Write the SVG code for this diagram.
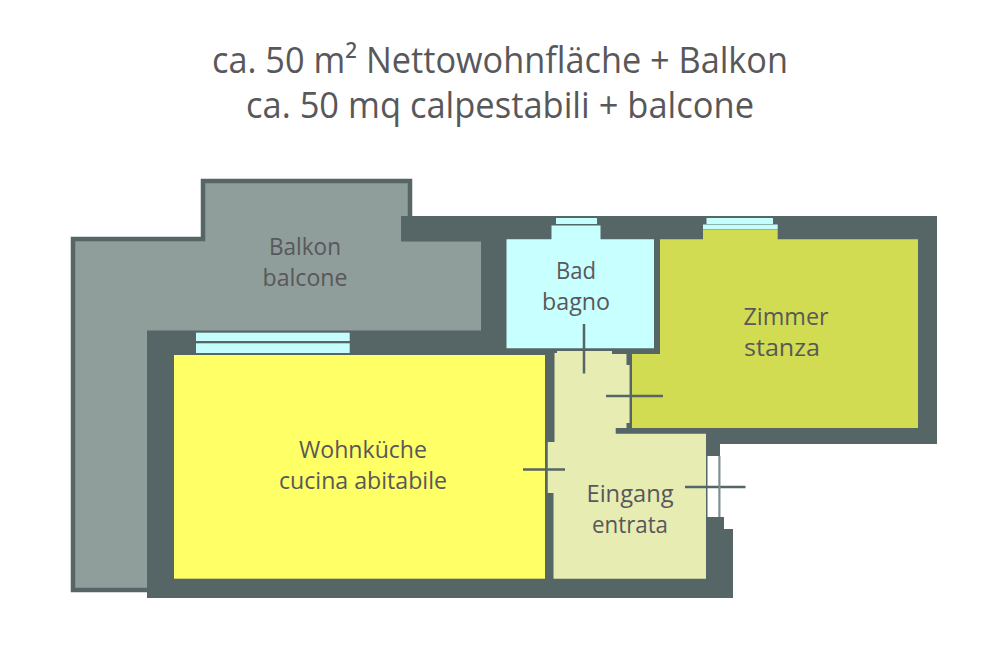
<svg xmlns="http://www.w3.org/2000/svg" width="1000" height="650" viewBox="0 0 1000 650">
<style>
text{font-family:"Open Sans","Noto Sans","Liberation Sans",sans-serif;fill:#58585a;text-anchor:middle}
.t{font-size:36px}
.l{font-size:23px}
.wall{fill:#566565}
.win{fill:#c5fdfd}
.door{stroke:#566565;stroke-width:2.5;fill:none}
.thin{stroke:#566565;stroke-width:2;fill:none}
</style>
<rect width="1000" height="650" fill="#fff"/>
<g id="title">
<text class="t" x="500" y="73" textLength="576" lengthAdjust="spacingAndGlyphs">ca. 50 m² Nettowohnfläche + Balkon</text>
<text class="t" x="500" y="118" textLength="508" lengthAdjust="spacingAndGlyphs">ca. 50 mq calpestabili + balcone</text>
</g>
<g id="balkon">
<path d="M73 239H203V181H410V235H490V340H150V590H73Z" fill="#8f9d9b" stroke="#566565" stroke-width="4.5"/>
<text class="l" x="305" y="255" textLength="72" lengthAdjust="spacingAndGlyphs">Balkon</text>
<text class="l" x="305" y="286" textLength="85" lengthAdjust="spacingAndGlyphs">balcone</text>
</g>
<path id="walls" class="wall" d="M401 216H937V444H720V517H724V529H733V598H147V330.5H481V241.5H401Z"/>
<g id="bad">
<path d="M506.5 239.3H551.5V230H600.5V239.3H654V348.3H506.5Z" fill="#c8ffff"/>
<rect class="win" x="556" y="218" width="41" height="6"/>
<rect class="win" x="551.5" y="225.5" width="49" height="4.5"/>
<text class="l" x="576" y="279" textLength="40" lengthAdjust="spacingAndGlyphs">Bad</text>
<text class="l" x="576" y="310" textLength="68" lengthAdjust="spacingAndGlyphs">bagno</text>
</g>
<g id="zimmer">
<path d="M660 239.3H703V230H777.7V239.3H918V428H632V354H660Z" fill="#d1dc52"/>
<rect class="win" x="706.5" y="218" width="66.5" height="6"/>
<rect class="win" x="703" y="224.5" width="74.7" height="5"/>
<text class="l" x="786" y="325" textLength="85" lengthAdjust="spacingAndGlyphs">Zimmer</text>
<text class="l" x="782" y="356" textLength="76" lengthAdjust="spacingAndGlyphs">stanza</text>
</g>
<g id="wohnkueche">
<rect x="174" y="355" width="371" height="223.7" fill="#ffff66"/>
<rect class="win" x="196" y="332.7" width="153.7" height="8.3"/>
<rect class="win" x="196" y="343.3" width="153.7" height="9.7"/>
<text class="l" x="363" y="458" textLength="128" lengthAdjust="spacingAndGlyphs">Wohnküche</text>
<text class="l" x="363" y="489" textLength="168" lengthAdjust="spacingAndGlyphs">cucina abitabile</text>
</g>
<g id="eingang">
<path d="M554.5 442V353H557V351H612V354H626.5V365H629.7V423H626.5V428H615.700V433.7H706V578.7H553.5V493H547.5V442Z" fill="#e7ecb3"/>
<text class="l" x="630" y="502" textLength="87" lengthAdjust="spacingAndGlyphs">Eingang</text>
<text class="l" x="630" y="533" textLength="76" lengthAdjust="spacingAndGlyphs">entrata</text>
</g>
<rect id="entry-opening" x="707.5" y="456" width="11.2" height="61" fill="#fff"/>
<g id="doors">
<path class="door" d="M584 324V373.500"/>
<path class="door" d="M606 396H663"/>
<path class="thin" d="M630.800 354V428"/>
<path class="door" d="M523 469.500H565"/>
<path class="thin" d="M546.500 442V493"/>
<path class="door" d="M685 487H745.500"/>
<path d="M719.500 456V517" stroke="#7f8f8e" stroke-width="2" fill="none"/>
</g>
</svg>
